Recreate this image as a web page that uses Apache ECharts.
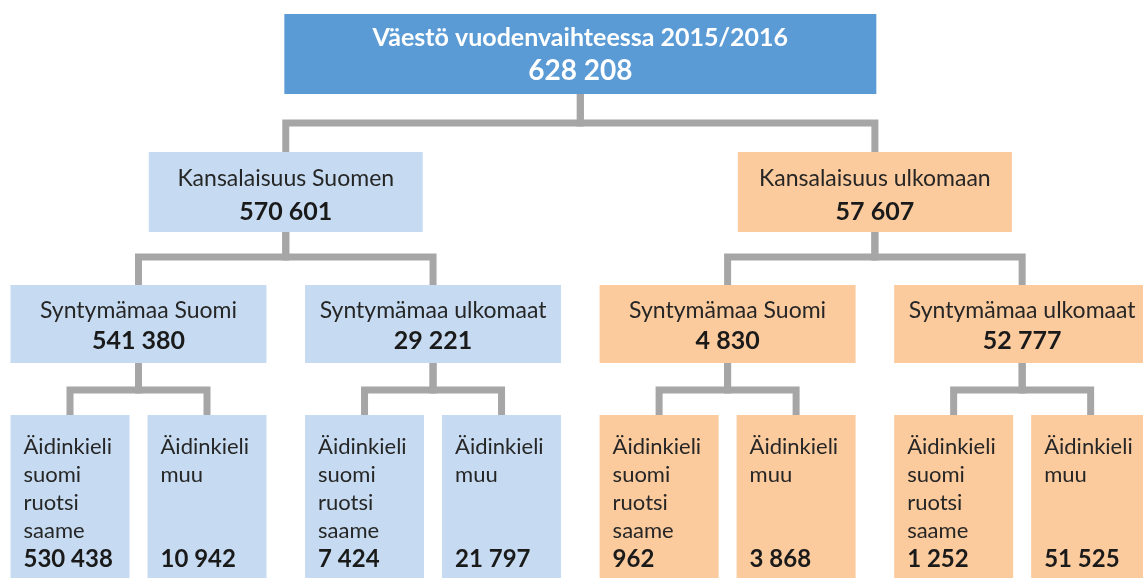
<!DOCTYPE html>
<html>
<head>
<meta charset="utf-8">
<script src="https://cdn.jsdelivr.net/npm/echarts@6/dist/echarts.min.js"></script>
<style>
  html, body { margin: 0; padding: 0; background: #fff; }
  #main { width: 1143px; height: 578px; }
</style>
</head>
<body>
<div id="main"></div>
<script>
// data
const rootLabels = ['Väestö vuodenvaihteessa 2015/2016'];
const rootValues = [628208];
const citizenLabels = ['Kansalaisuus Suomen', 'Kansalaisuus ulkomaan'];
const citizenValues = [570601, 57607];
const birthLabels = ['Syntymämaa Suomi', 'Syntymämaa ulkomaat', 'Syntymämaa Suomi', 'Syntymämaa ulkomaat'];
const birthValues = [541380, 29221, 4830, 52777];
const langLabels = [
  'Äidinkieli\nsuomi\nruotsi\nsaame', 'Äidinkieli\nmuu',
  'Äidinkieli\nsuomi\nruotsi\nsaame', 'Äidinkieli\nmuu',
  'Äidinkieli\nsuomi\nruotsi\nsaame', 'Äidinkieli\nmuu',
  'Äidinkieli\nsuomi\nruotsi\nsaame', 'Äidinkieli\nmuu'
];
const langValues = [530438, 10942, 7424, 21797, 962, 3868, 1252, 51525];

// layout (pixels)
const levelTop = [14, 152, 285, 415];
const levelHeight = [80, 80, 78, 200];
const levelWidth = [592, 274, 256, 119];
const labelY = [38, 179, 311];
const valueY = [71, 212, 341];
const barY = [123, 257, 390];
const fillColors = ['#C6DBF1', '#FBCA9D'];
const rootColor = '#5B9BD5';
const lineColor = '#A6A6A6';
const FONT = 'Lato, "Open Sans", sans-serif';

function fmt(v) {
  return String(v).replace(/\B(?=(\d{3})+(?!\d))/g, ' ');
}

// build tree nodes: each parent has two children on next level
const levels = [
  [rootLabels, rootValues],
  [citizenLabels, citizenValues],
  [birthLabels, birthValues],
  [langLabels, langValues]
];
const nodes = [];
const byLevel = [];
levels.forEach(function (lv, l) {
  byLevel[l] = lv[0].map(function (label, i) {
    const n = { level: l, index: i, label: label, value: lv[1][i], children: [] };
    nodes.push(n);
    return n;
  });
});
for (let l = 0; l < 3; l++) {
  byLevel[l].forEach(function (n, i) {
    n.children = [byLevel[l + 1][2 * i], byLevel[l + 1][2 * i + 1]];
  });
}
// leaf slots: step 1 inside a pair, a bit wider between pairs
byLevel[3].forEach(function (n, i) { n.x = i + 0.15 * Math.floor(i / 2); });
for (let l = 2; l >= 0; l--) {
  byLevel[l].forEach(function (n) {
    n.x = (n.children[0].x + n.children[1].x) / 2;
  });
}
nodes.forEach(function (n) {
  n.group = n.level === 0 ? -1 : Math.floor(n.index / Math.pow(2, n.level - 1));
});

const chart = echarts.init(document.getElementById('main'));
chart.setOption({
  animation: false,
  grid: { left: 0, right: 0, top: 0, bottom: 0 },
  xAxis: { type: 'value', min: -70 / 137, max: (1143 - 70) / 137, show: false },
  yAxis: { type: 'value', min: 0, max: 578, inverse: true, show: false },
  series: [{
    type: 'custom',
    coordinateSystem: 'cartesian2d',
    data: nodes.map(function (n) { return [n.x, levelTop[n.level]]; }),
    renderItem: function (params, api) {
      const n = nodes[params.dataIndex];
      const p = api.coord([n.x, levelTop[n.level]]);
      const cx = p[0], top = p[1];
      const w = levelWidth[n.level], h = levelHeight[n.level];
      const left = cx - w / 2;
      const children = [];
      // connectors to children
      n.children.forEach(function (c) {
        const cp = api.coord([c.x, levelTop[c.level]]);
        const by = api.coord([0, barY[n.level]])[1];
        children.push({
          type: 'polyline',
          shape: { points: [[cx, top + h], [cx, by], [cp[0], by], [cp[0], cp[1]]] },
          style: { stroke: lineColor, lineWidth: 7, fill: null, lineJoin: 'miter' },
          z2: 0
        });
      });
      const fill = n.level === 0 ? rootColor : fillColors[n.group];
      children.push({
        type: 'rect',
        shape: { x: left, y: top, width: w, height: h },
        style: { fill: fill },
        z2: 1
      });
      if (n.level < 3) {
        const white = n.level === 0;
        children.push({
          type: 'text',
          style: {
            text: n.label, x: cx, y: labelY[n.level],
            align: 'center', verticalAlign: 'middle',
            fill: white ? '#fff' : '#262626',
            font: (white ? 'bold 25px ' : '23px ') + FONT
          },
          z2: 2
        });
        children.push({
          type: 'text',
          style: {
            text: fmt(n.value), x: cx, y: valueY[n.level],
            align: 'center', verticalAlign: 'middle',
            fill: white ? '#fff' : '#1a1a1a',
            font: 'bold ' + (white ? 28 : 25) + 'px ' + FONT
          },
          z2: 2
        });
      } else {
        children.push({
          type: 'text',
          style: {
            text: n.label, x: left + 13, y: 433,
            align: 'left', verticalAlign: 'top', lineHeight: 28,
            fill: '#262626', font: '22px ' + FONT
          },
          z2: 2
        });
        children.push({
          type: 'text',
          style: {
            text: fmt(n.value), x: left + 13, y: 559,
            align: 'left', verticalAlign: 'middle',
            fill: '#1a1a1a', font: 'bold 24px ' + FONT
          },
          z2: 2
        });
      }
      return { type: 'group', children: children };
    }
  }]
});
</script>
</body>
</html>
